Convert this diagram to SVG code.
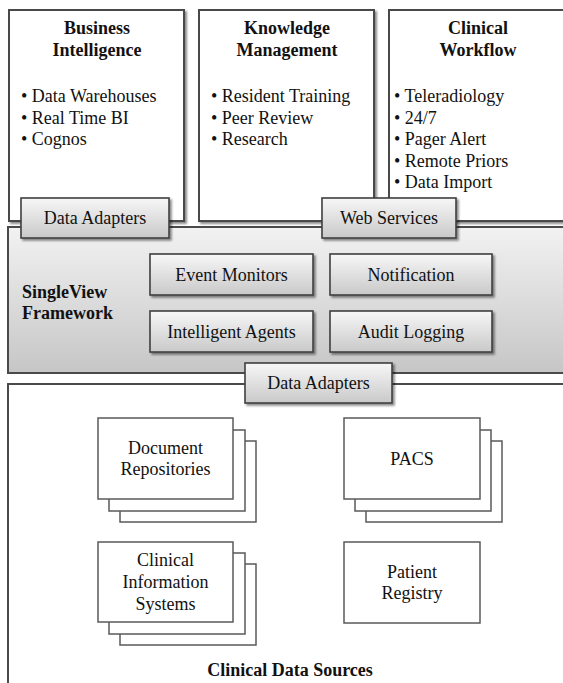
<svg xmlns="http://www.w3.org/2000/svg" width="563" height="683" viewBox="0 0 563 683">
<defs>
<linearGradient id="gFrame" x1="0" y1="0" x2="0" y2="1">
<stop offset="0" stop-color="#f2f2f2"/>
<stop offset="1" stop-color="#c6c6c6"/>
</linearGradient>
<linearGradient id="gBtn" x1="0" y1="0" x2="0" y2="1">
<stop offset="0" stop-color="#f7f7f7"/>
<stop offset="1" stop-color="#c9c9c9"/>
</linearGradient>
<filter id="sh" x="-10%" y="-10%" width="130%" height="140%">
<feDropShadow dx="2" dy="2" stdDeviation="1.2" flood-color="#000" flood-opacity="0.45"/>
</filter>
</defs>
<style>
text{font-family:"Liberation Serif","Times New Roman",serif;font-size:18px;fill:#111}
.b{font-weight:bold}
.c{text-anchor:middle}
.panel{fill:#fff;stroke:#4a4a4a;stroke-width:2}
.btn{fill:url(#gBtn);stroke:#404040;stroke-width:1.6}
.src{fill:#fff;stroke:#5a5a5a;stroke-width:1.5}
</style>
<rect width="563" height="683" fill="#fff"/>

<g id="business-intelligence">
<rect class="panel" x="9" y="10" width="175" height="211" filter="url(#sh)"/>
<text class="b c" x="97" y="34">Business</text>
<text class="b c" x="97" y="56">Intelligence</text>
<text x="21" y="102">• Data Warehouses</text>
<text x="21" y="123.5">• Real Time BI</text>
<text x="21" y="145">• Cognos</text>
</g>

<g id="knowledge-management">
<rect class="panel" x="199" y="10" width="175" height="211" filter="url(#sh)"/>
<text class="b c" x="287" y="34">Knowledge</text>
<text class="b c" x="287" y="56">Management</text>
<text x="211" y="102">• Resident Training</text>
<text x="211" y="123.5">• Peer Review</text>
<text x="211" y="145">• Research</text>
</g>

<g id="clinical-workflow">
<rect class="panel" x="389" y="10" width="190" height="211" filter="url(#sh)"/>
<text class="b c" x="478" y="34">Clinical</text>
<text class="b c" x="478" y="56">Workflow</text>
<text x="394" y="102">• Teleradiology</text>
<text x="394" y="123.5">• 24/7</text>
<text x="394" y="145">• Pager Alert</text>
<text x="394" y="166.5">• Remote Priors</text>
<text x="394" y="188">• Data Import</text>
</g>

<g id="singleview-framework">
<rect x="8" y="227" width="570" height="146" fill="url(#gFrame)" stroke="#4a4a4a" stroke-width="2"/>
<text class="b" x="22" y="298">SingleView</text>
<text class="b" x="22" y="319">Framework</text>
</g>

<g id="clinical-data-sources">
<rect x="8" y="384" width="570" height="310" fill="#fff" stroke="#4a4a4a" stroke-width="2"/>
<text class="b c" x="290" y="676">Clinical Data Sources</text>
</g>

<g id="data-adapters-top">
<rect class="btn" x="21" y="198" width="148" height="40" filter="url(#sh)"/>
<text class="c" x="95" y="224">Data Adapters</text>
</g>

<g id="web-services">
<rect class="btn" x="322" y="198" width="134" height="40" filter="url(#sh)"/>
<text class="c" x="389" y="224">Web Services</text>
</g>

<g id="event-monitors">
<rect class="btn" x="150" y="254" width="163" height="41" filter="url(#sh)"/>
<text class="c" x="231.5" y="281">Event Monitors</text>
</g>

<g id="notification">
<rect class="btn" x="330" y="254" width="162" height="41" filter="url(#sh)"/>
<text class="c" x="411" y="281">Notification</text>
</g>

<g id="intelligent-agents">
<rect class="btn" x="150" y="311" width="163" height="41" filter="url(#sh)"/>
<text class="c" x="231.5" y="338">Intelligent Agents</text>
</g>

<g id="audit-logging">
<rect class="btn" x="330" y="311" width="162" height="41" filter="url(#sh)"/>
<text class="c" x="411" y="338">Audit Logging</text>
</g>

<g id="data-adapters-bottom">
<rect class="btn" x="245" y="363" width="147" height="40" filter="url(#sh)"/>
<text class="c" x="318.5" y="389">Data Adapters</text>
</g>

<g id="document-repositories">
<rect class="src" x="120" y="441" width="136" height="81"/>
<rect class="src" x="109" y="430" width="136" height="81"/>
<rect class="src" x="98" y="418" width="135" height="81"/>
<text class="c" x="165.5" y="454">Document</text>
<text class="c" x="165.5" y="475">Repositories</text>
</g>

<g id="pacs">
<rect class="src" x="366" y="441" width="136" height="81"/>
<rect class="src" x="355" y="430" width="136" height="81"/>
<rect class="src" x="344" y="418" width="136" height="81"/>
<text class="c" x="412" y="465">PACS</text>
</g>

<g id="clinical-information-systems">
<rect class="src" x="120" y="564" width="136" height="81"/>
<rect class="src" x="109" y="553" width="136" height="81"/>
<rect class="src" x="98" y="542" width="135" height="80"/>
<text class="c" x="165.5" y="566">Clinical</text>
<text class="c" x="165.5" y="588">Information</text>
<text class="c" x="165.5" y="610">Systems</text>
</g>

<g id="patient-registry">
<rect class="src" x="344" y="542" width="136" height="81"/>
<text class="c" x="412" y="578">Patient</text>
<text class="c" x="412" y="599">Registry</text>
</g>

<g id="connectors"></g>
</svg>
